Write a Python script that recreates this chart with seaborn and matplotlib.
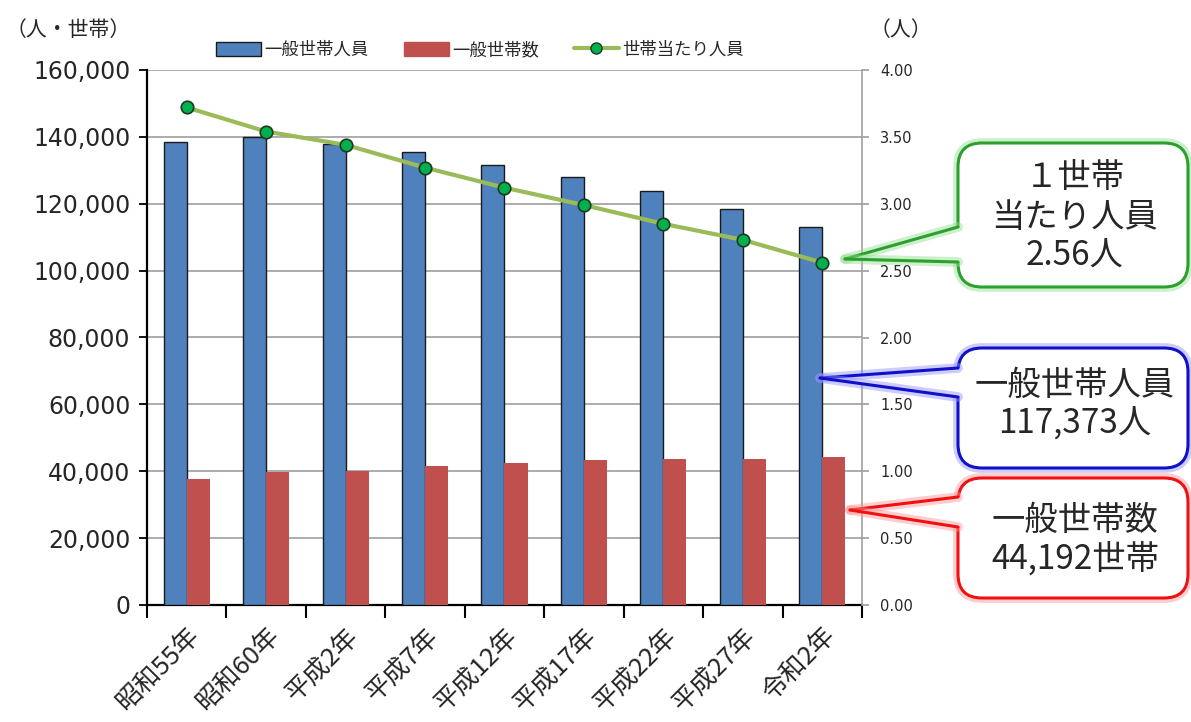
import numpy as np
import pandas as pd
import seaborn as sns
import matplotlib.pyplot as plt
import matplotlib.transforms as mtransforms
import matplotlib.patheffects as pe
from matplotlib.patches import FancyBboxPatch, Polygon, Patch
from matplotlib.lines import Line2D
from matplotlib.ticker import FuncFormatter, FixedLocator

# Data
years = ["昭和55年", "昭和60年", "平成2年", "平成7年", "平成12年",
         "平成17年", "平成22年", "平成27年", "令和2年"]
members = [138600, 139900, 138000, 135600, 131600, 128100, 123800, 118500, 112900]
households = [37600, 39900, 40100, 41500, 42400, 43300, 43700, 43700, 44192]
per_household = [3.72, 3.54, 3.44, 3.27, 3.12, 2.99, 2.85, 2.73, 2.56]
series_names = ["一般世帯人員", "一般世帯数", "世帯当たり人員"]

blue = "#4F81BD"
red = "#C0504D"
green_line = "#9BBB59"
green_mark = "#00B050"

sns.set_theme(style="white")
plt.rcParams["font.family"] = ["Noto Sans CJK JP", "DejaVu Sans"]

W, H = 1191, 722
fig = plt.figure(figsize=(W / 100, H / 100), dpi=100)
ax = fig.add_axes([147 / W, 1 - 605 / H, (862 - 147) / W, (605 - 70) / H])

df = pd.DataFrame({
    "year": years * 2,
    "series": [series_names[0]] * len(years) + [series_names[1]] * len(years),
    "value": members + households,
})
sns.barplot(data=df, x="year", y="value", hue="series", palette=[blue, red],
            width=0.58, saturation=1, legend=False, ax=ax, zorder=3)
for bar in ax.containers[0]:
    bar.set_edgecolor("#1a1a1a")
    bar.set_linewidth(1.0)
for bar in ax.containers[1]:
    bar.set_linewidth(0)

ax.set_xlim(-0.5, len(years) - 0.5)
ax.set_ylim(0, 160000)
ax.set_yticks(np.arange(0, 160001, 20000))
ax.yaxis.set_major_formatter(FuncFormatter(lambda v, p: f"{int(v):,}"))
ax.yaxis.grid(True, color="#a6a6a6", linewidth=1.3, zorder=0)
ax.set_axisbelow(True)
ax.set_xlabel("")
ax.set_ylabel("")
ax.tick_params(axis="y", labelsize=17, length=6, width=1.3, color="black",
               direction="out", left=True, pad=6)
for lbl in ax.get_yticklabels():
    lbl.set_family("DejaVu Sans")
ax.set_xticks(np.arange(len(years)))
ax.set_xticklabels(years, rotation=45, ha="right", rotation_mode="anchor", fontsize=18.5)
shift = mtransforms.ScaledTranslation(-9 / 100, 0, fig.dpi_scale_trans)
for lbl in ax.get_xticklabels():
    lbl.set_transform(lbl.get_transform() + shift)
ax.tick_params(axis="x", which="major", length=0, pad=13)
ax.xaxis.set_minor_locator(FixedLocator(np.arange(-0.5, len(years), 1)))
ax.tick_params(axis="x", which="minor", length=9, width=1.5, color="black",
               direction="out", bottom=True)
for s in ["left", "bottom"]:
    ax.spines[s].set_color("black")
    ax.spines[s].set_linewidth(1.6)
ax.spines["top"].set_visible(False)
ax.spines["right"].set_visible(False)

ax2 = ax.twinx()
sns.lineplot(x=np.arange(len(years)), y=per_household, ax=ax2, color=green_line,
             linewidth=3, marker="o", markersize=9, markerfacecolor=green_mark,
             markeredgecolor="#1d3a1d", markeredgewidth=1.2, zorder=5)
ax2.set_ylim(0, 4)
ax2.set_yticks(np.arange(0, 4.01, 0.5))
ax2.yaxis.set_major_formatter(FuncFormatter(lambda v, p: f"{v:.2f}"))
ax2.tick_params(axis="y", labelsize=10.5, length=5, color="#a0a0a0",
                direction="out", right=True, pad=8)
for lbl in ax2.get_yticklabels():
    lbl.set_family("DejaVu Sans")
ax2.grid(False)
for s in ["top", "left", "bottom"]:
    ax2.spines[s].set_visible(False)
ax2.spines["right"].set_color("#a0a0a0")
ax2.spines["right"].set_linewidth(1.2)

handles = [
    Patch(facecolor=blue, edgecolor="#1a1a1a", linewidth=1.0),
    Patch(facecolor=red, edgecolor=red),
    Line2D([], [], color=green_line, linewidth=3, marker="o", markersize=8,
           markerfacecolor=green_mark, markeredgecolor="#1d3a1d"),
]
fig.legend(handles, series_names, loc="center", bbox_to_anchor=(480 / W, 1 - 50 / H),
           ncol=3, frameon=False, fontsize=12.5, handlelength=2.6, handleheight=0.9,
           columnspacing=2.0, handletextpad=0.2)

# pixel coordinates, origin top-left
px = mtransforms.Affine2D().scale(1 / 100, -1 / 100).translate(0, H / 100) + fig.dpi_scale_trans

fig.text(6, 30, "（人・世帯）", transform=px, fontsize=15, va="center", ha="left")
fig.text(870, 30, "（人）", transform=px, fontsize=15, va="center", ha="left")


def callout(box, tip, base, color, glow, text, text_y):
    x0, y0, x1, y1 = box
    effects = [pe.Stroke(linewidth=7, foreground=glow, alpha=0.45), pe.Normal()]
    patch = FancyBboxPatch((x0, y0), x1 - x0, y1 - y0,
                           boxstyle="round,pad=0,rounding_size=24",
                           transform=px, facecolor="white", edgecolor=color,
                           linewidth=2.2, zorder=10, path_effects=effects)
    fig.add_artist(patch)
    wedge = Polygon([tip, (x0 + 4, base[0]), (x0 + 4, base[1])], closed=True,
                    transform=px, facecolor="white", edgecolor="none", zorder=11)
    fig.add_artist(wedge)
    for by in base:
        ln = Line2D([tip[0], x0], [tip[1], by], transform=px, color=color,
                    linewidth=2.2, zorder=12, path_effects=effects)
        fig.add_artist(ln)
    fig.text((x0 + x1) / 2 + 2, text_y, text, transform=px, fontsize=24,
             ha="center", va="center", linespacing=1.15, zorder=13)


callout((958, 143, 1188, 287), (845, 259), (227, 262), "#2ca02c", "#8fdc8f",
        "１世帯\n当たり人員\n2.56人", 217)
callout((958, 348, 1188, 468), (820, 378), (368, 397), "#1010c8", "#8f8fff",
        "一般世帯人員\n117,373人", 405)
callout((958, 478, 1188, 598), (850, 510), (497, 527), "#ee1111", "#ff9090",
        "一般世帯数\n44,192世帯", 540)

fig.savefig("out.png", dpi=100)
